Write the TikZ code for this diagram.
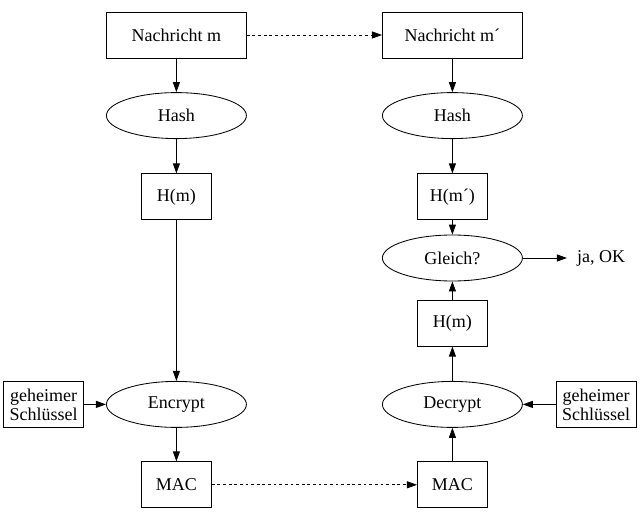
\documentclass[tikz,border=0pt]{standalone}
\usepackage{fontspec}
\setmainfont{Liberation Serif}
\usepackage{tikz}
\usetikzlibrary{arrows.meta, positioning, shapes.geometric}

\begin{document}
\begin{tikzpicture}[
    box/.style={
        rectangle, draw=black, line width=0.6pt,
        minimum width=17.5mm, minimum height=11.5mm,
        inner sep=0pt, align=center, font=\fontsize{12.8}{13.5}\selectfont
    },
    widebox/.style={
        box, minimum width=35mm
    },
    keybox/.style={
        box, minimum width=20mm
    },
    oval/.style={
        ellipse, draw=black, line width=0.6pt,
        minimum width=35mm, minimum height=11.5mm,
        inner sep=0pt, font=\fontsize{12.8}{13.5}\selectfont
    },
    arrow/.style={-{Triangle[length=2.5mm, width=1.75mm]}, line width=0.6pt},
    dotarrow/.style={arrow, dash pattern=on 2pt off 2pt}
]

\useasboundingbox (0,0) rectangle (16,-12.85);

% --- Sender (left side) ---
\node[widebox] (msg) at (4.41, -0.875) {Nachricht m};
\node[oval] (hash) at (4.41, -2.89) {Hash};
\node[box] (hm) at (4.41, -4.92) {H(m)};
\node[oval] (enc) at (4.41, -10.11) {Encrypt};
\node[keybox] (keyl) at (1.09, -10.11) {geheimer\\Schlüssel};
\node[box] (macl) at (4.41, -12.12) {MAC};

\draw[arrow] (msg) -- (hash);
\draw[arrow] (hash) -- (hm);
\draw[arrow] (hm) -- (enc);
\draw[arrow] (keyl) -- (enc);
\draw[arrow] (enc) -- (macl);

% --- Receiver (right side) ---
\node[widebox] (msgr) at (11.31, -0.875) {Nachricht m´};
\node[oval] (hashr) at (11.31, -2.89) {Hash};
\node[box] (hmr) at (11.31, -4.92) {H(m´)};
\node[oval] (equal) at (11.31, -6.45) {Gleich?};
\node[box] (hmd) at (11.31, -8.08) {H(m)};
\node[oval] (dec) at (11.31, -10.11) {Decrypt};
\node[keybox] (keyr) at (14.9, -10.11) {geheimer\\Schlüssel};
\node[box] (macr) at (11.31, -12.12) {MAC};
\node[inner xsep=2.5mm, font=\fontsize{12.8}{13.5}\selectfont] (ok) at (15.03, -6.45) {ja, OK};

\draw[arrow] (msgr) -- (hashr);
\draw[arrow] (hashr) -- (hmr);
\draw[arrow] (hmr) -- (equal);
\draw[arrow] (macr) -- (dec);
\draw[arrow] (keyr) -- (dec);
\draw[arrow] (dec) -- (hmd);
\draw[arrow] (hmd) -- (equal);
\draw[arrow] (equal) -- (ok);

% --- Transfer ---
\draw[dotarrow] (msg) -- (msgr);
\draw[dotarrow] (macl) -- (macr);

\end{tikzpicture}
\end{document}
